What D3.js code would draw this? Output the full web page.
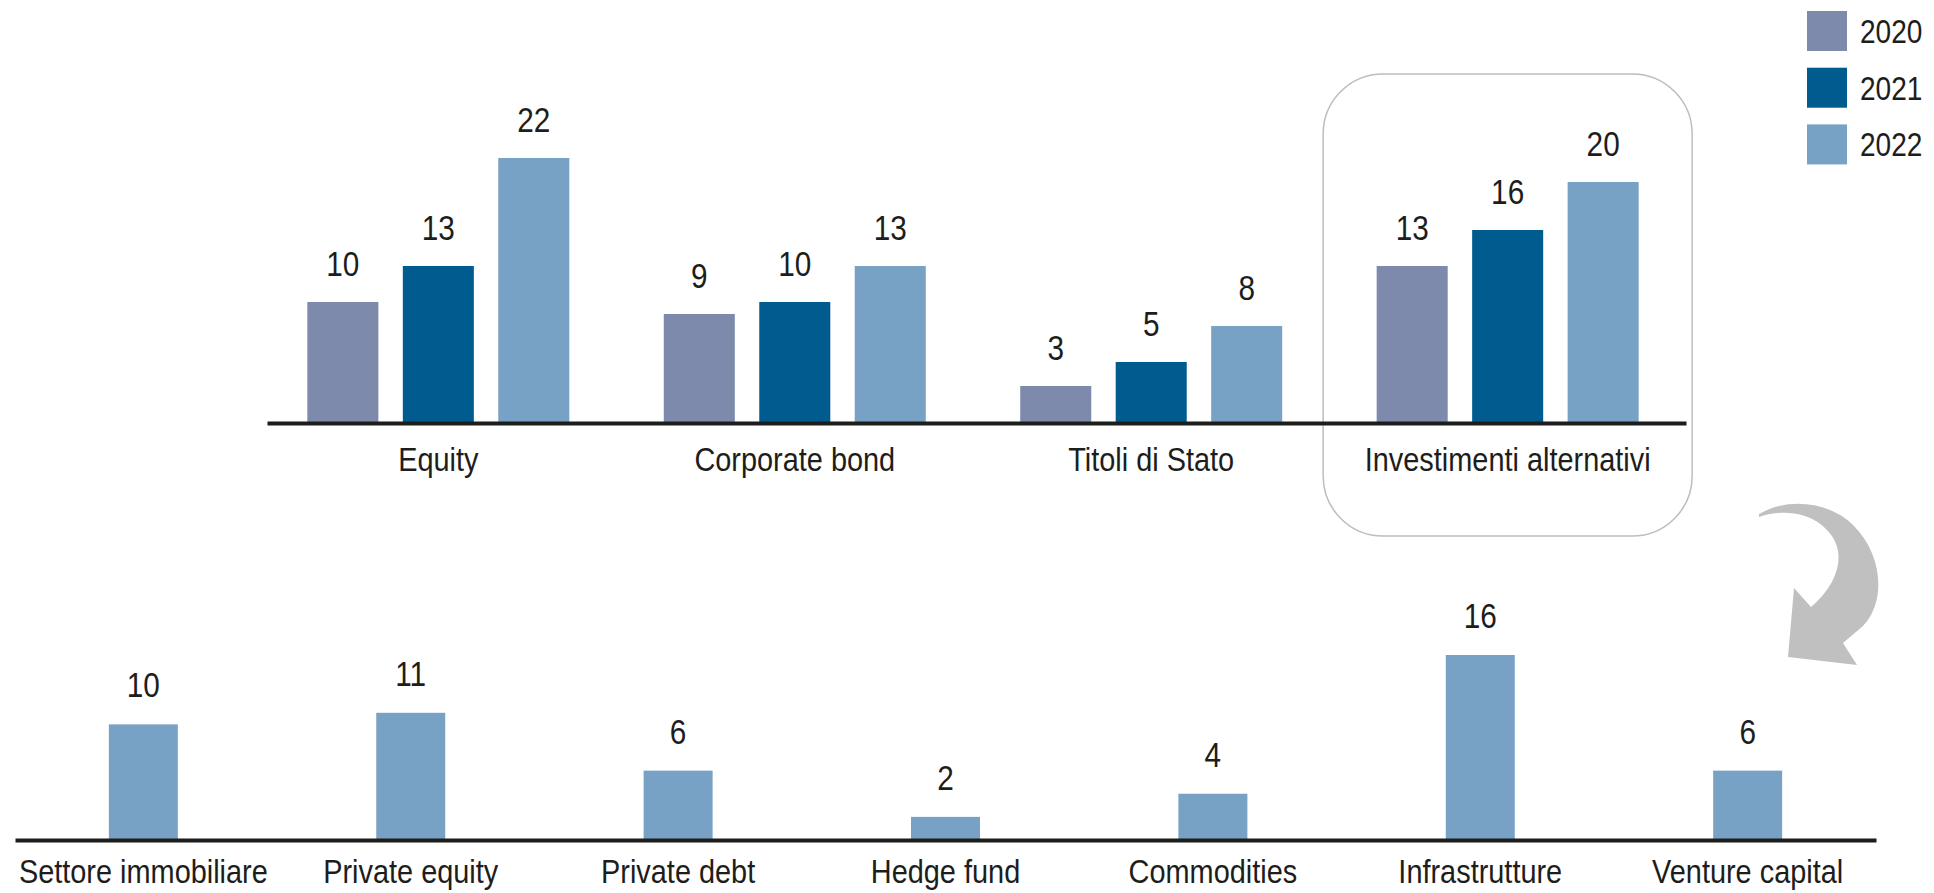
<!DOCTYPE html>
<html>
<head>
<meta charset="utf-8">
<script src="https://cdn.jsdelivr.net/npm/d3@7"></script>
<style>
  html, body { margin: 0; padding: 0; background: #fff; }
  svg { display: block; }
  text { font-family: "Liberation Sans", Arial, sans-serif; fill: #1d1d1b; }
</style>
</head>
<body>
<div id="chart"></div>
<script>
"use strict";

// ── Data ──────────────────────────────────────────────────────────────────────
const topCategories = ["Equity", "Corporate bond", "Titoli di Stato", "Investimenti alternativi"];
const years         = ["2020", "2021", "2022"];
const values2020    = [10, 9, 3, 13];
const values2021    = [13, 10, 5, 16];
const values2022    = [22, 13, 8, 20];

const altCategories = ["Settore immobiliare", "Private equity", "Private debt", "Hedge fund",
                       "Commodities", "Infrastrutture", "Venture capital"];
const altValues     = [10, 11, 6, 2, 4, 16, 6];

const colors = { "2020": "#7e8aab", "2021": "#005c8f", "2022": "#77a1c5" };

// narrow look of the original font, faked by squeezing Liberation Sans
const SQUEEZE = 0.85;

// ── SVG ───────────────────────────────────────────────────────────────────────
const W = 1934, H = 893;
const svg = d3.select("#chart").append("svg")
  .attr("width", W)
  .attr("height", H);

const byYear = { "2020": values2020, "2021": values2021, "2022": values2022 };
const rows   = topCategories.map((c, i) => ({ cat: c, vals: years.map((y) => ({ year: y, v: byYear[y][i] })) }));

// ── Top chart: grouped bars ───────────────────────────────────────────────────
const x0 = d3.scaleBand()
  .domain(topCategories)
  .range([267, 1686])
  .paddingInner(0.265)
  .paddingOuter(0.123)
  .align(0.46);

const x1 = d3.scaleBand()
  .domain(years)
  .range([0, x0.bandwidth()])
  .paddingInner(0.256);

const yTop = d3.scaleLinear().domain([0, 22]).range([422, 158]);

// highlight box around "Investimenti alternativi"
const boxCx = x0("Investimenti alternativi") + x0.bandwidth() / 2;
svg.append("rect")
  .attr("x", boxCx - 184.5).attr("y", 74)
  .attr("width", 369).attr("height", 462)
  .attr("rx", 60).attr("ry", 60)
  .attr("fill", "none")
  .attr("stroke", "#bdbdbd")
  .attr("stroke-width", 1.5);

const groups = svg.append("g").selectAll("g")
  .data(rows)
  .join("g")
  .attr("transform", (d) => `translate(${x0(d.cat)},0)`);

groups.selectAll("rect")
  .data((d) => d.vals)
  .join("rect")
  .attr("x", (d) => x1(d.year))
  .attr("y", (d) => yTop(d.v))
  .attr("width", x1.bandwidth())
  .attr("height", (d) => yTop(0) - yTop(d.v))
  .attr("fill", (d) => colors[d.year]);

groups.selectAll("text")
  .data((d) => d.vals)
  .join("text")
  .attr("x", (d) => x1(d.year) + x1.bandwidth() / 2)
  .attr("y", (d) => yTop(d.v) - 26)
  .attr("text-anchor", "middle")
  .style("font-size", "35px")
  .text((d) => d.v)
  .call(squeeze);

const topAxis = svg.append("g")
  .attr("transform", `translate(0,${yTop(0) + 1})`)
  .call(d3.axisBottom(x0).tickSize(0).tickSizeOuter(0));
styleAxis(topAxis, 48);

// ── Bottom chart: alternative investments breakdown ───────────────────────────
const x2 = d3.scaleBand()
  .domain(altCategories)
  .range([15, 1876])
  .paddingInner(0.742)
  .paddingOuter(0.351)
  .align(0.5);

const yBot = d3.scaleLinear().domain([0, 16]).range([840, 655]);
const alt  = altCategories.map((c, i) => ({ cat: c, v: altValues[i] }));

svg.append("g").selectAll("rect")
  .data(alt)
  .join("rect")
  .attr("x", (d) => x2(d.cat))
  .attr("y", (d) => yBot(d.v))
  .attr("width", x2.bandwidth())
  .attr("height", (d) => yBot(0) - yBot(d.v))
  .attr("fill", colors["2022"]);

svg.append("g").selectAll("text")
  .data(alt)
  .join("text")
  .attr("x", (d) => x2(d.cat) + x2.bandwidth() / 2)
  .attr("y", (d) => yBot(d.v) - 27)
  .attr("text-anchor", "middle")
  .style("font-size", "35px")
  .text((d) => d.v)
  .call(squeeze);

const botAxis = svg.append("g")
  .attr("transform", `translate(0,${yBot(0)})`)
  .call(d3.axisBottom(x2).tickSize(0).tickSizeOuter(0));
styleAxis(botAxis, 43);

// ── Curved arrow ──────────────────────────────────────────────────────────────
svg.append("path")
  .attr("d", "M1759,514 C1790,496 1832,503 1854,526 C1882,554 1887,601 1863,626 " +
             "L1843,643 L1857,665 L1788,657 L1794,588 L1811,607 " +
             "C1839,583 1845,555 1832,536 C1817,515 1790,507 1759,517 Z")
  .attr("fill", "#c0c0c0");

// ── Legend ────────────────────────────────────────────────────────────────────
const legend = svg.append("g").selectAll("g")
  .data(years)
  .join("g")
  .attr("transform", (d, i) => `translate(1807,${11 + i * 56.7})`);

legend.append("rect")
  .attr("width", 40).attr("height", 40)
  .attr("fill", (d) => colors[d]);

legend.append("text")
  .attr("x", 53).attr("y", 20)
  .attr("dy", "0.36em")
  .style("font-size", "33px")
  .text((d) => d)
  .call(squeeze);

// ── Helpers ───────────────────────────────────────────────────────────────────
function styleAxis(g, labelY) {
  g.select(".domain")
    .attr("stroke", "#1d1d1b")
    .attr("stroke-width", 4);
  g.selectAll(".tick text")
    .attr("y", labelY)
    .attr("dy", 0)
    .attr("font-family", null)
    .attr("font-size", null)
    .attr("fill", null)
    .style("font-size", "34px")
    .call(squeeze);
}

// move x/y into a transform so the glyphs can be narrowed around their anchor
function squeeze(sel) {
  sel.each(function() {
    const t = d3.select(this);
    const x = +t.attr("x") || 0;
    const y = +t.attr("y") || 0;
    t.attr("x", 0).attr("y", 0)
      .attr("transform", `translate(${x},${y}) scale(${SQUEEZE},1)`);
  });
}
</script>
</body>
</html>
